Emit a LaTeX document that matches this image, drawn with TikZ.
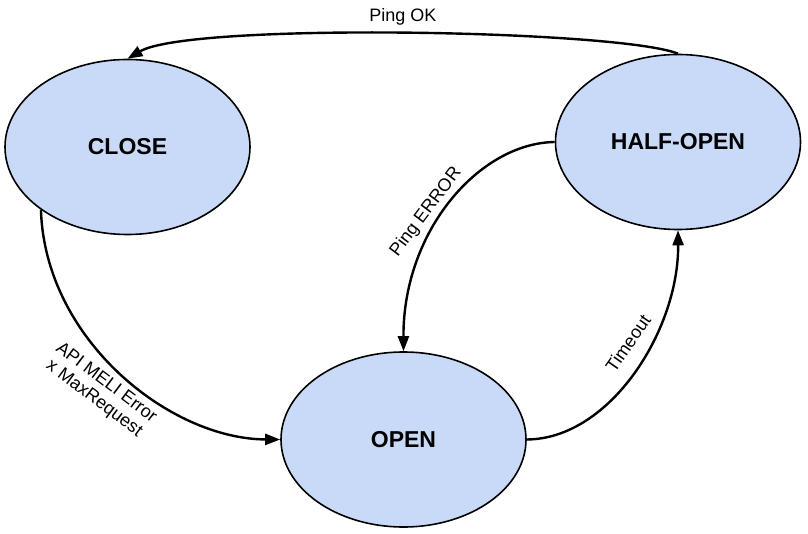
\documentclass[tikz,border=0pt]{standalone}
\usepackage{fontspec}
\setmainfont{Liberation Sans}
\usetikzlibrary{arrows.meta, shapes.geometric}

\definecolor{statefill}{HTML}{C9DAF8}

\begin{document}
\begin{tikzpicture}[
    x=1pt, y=-1pt,
    state/.style={ellipse, draw=black, line width=1.6pt, fill=statefill,
                  minimum width=245pt, minimum height=175pt, inner sep=0pt,
                  font=\fontsize{23}{26}\selectfont\bfseries},
    arrow/.style={-{Triangle[length=15pt, width=11pt]}, line width=2.4pt},
    label/.style={font=\fontsize{18}{20}\selectfont}
]

    \useasboundingbox (0,0) rectangle (808,534);

    % States
    \node[state] (close) at (127.5,147) {CLOSE};
    \node[state] (half) at (678,142) {HALF-OPEN};
    \node[state] (open) at (403.5,439.5) {OPEN};

    % Transitions
    \draw[arrow] (half.north) .. controls (620,30) and (190,22) .. (close.north);
    \draw[arrow] (close.216) .. controls (45,340) and (170,439) .. (open.west);
    \draw[arrow] (half.west) .. controls (480,143) and (403,230) .. (open.north);
    \draw[arrow] (open.east) .. controls (610,439) and (679,330) .. (half.south);

    % Transition labels
    \node[label] (lok) at (403,17) {Ping OK};
    \node[label, rotate=-37, align=center] (lerr) at (100,391) {API MELI Error\\x MaxRequest};
    \node[label, rotate=53] (lping) at (426,212) {Ping ERROR};
    \node[label, rotate=55] (ltime) at (628,343) {Timeout};

\end{tikzpicture}
\end{document}
